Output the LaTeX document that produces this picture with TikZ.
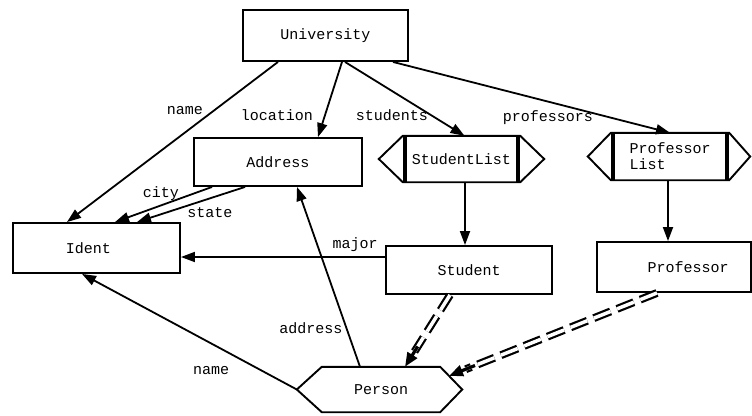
\documentclass[tikz,border=0pt]{standalone}
\usepackage{fontspec}
\setmainfont{Liberation Mono}
\usetikzlibrary{arrows.meta,calc}
\begin{document}
\begin{tikzpicture}[x=1pt,y=-1pt,
  font=\fontsize{15}{17}\selectfont,
  box/.style={draw,line width=1.9pt,inner sep=0pt},
  outline/.style={line width=1.9pt},
  bar/.style={line width=3.5pt},
  arr/.style={line width=1.8pt,-{Triangle[length=14pt,width=10pt]}},
  lbl/.style={inner sep=0pt},
  dbl/.style={line width=2.2pt,double=white,double distance=3.5pt,dash pattern=on 18pt off 7pt}]
\useasboundingbox[fill=white] (0,0) rectangle (752,415);

% rectangular nodes
\node[box,minimum width=165pt,minimum height=51pt] (uni) at (325.5,35.5) {University};
\node[box,minimum width=168pt,minimum height=48pt] (addr) at (278,162) {Address};
\node[box,minimum width=167pt,minimum height=50pt,label={[xshift=-8pt]center:Ident}] (ident) at (96.5,248) {};
\node[box,minimum width=166pt,minimum height=48pt] (stu) at (469,270) {Student};
\node[box,minimum width=154pt,minimum height=50pt,label={[xshift=14pt]center:Professor}] (prof) at (674,267) {};

% StudentList
\node[inner sep=0pt,minimum width=113pt,minimum height=46pt] (sl) at (461.5,159) {StudentList};
\draw[outline] ([xshift=-2pt]sl.north west) -- ([xshift=2pt]sl.north east) -- ([xshift=26pt]sl.east)
  -- ([xshift=2pt]sl.south east) -- ([xshift=-2pt]sl.south west) -- ([xshift=-26pt]sl.west) -- cycle;
\draw[bar] (sl.north west) -- (sl.south west) (sl.north east) -- (sl.south east);

% ProfessorList
\node[inner sep=0pt,minimum width=114pt,minimum height=47pt,align=left,font=\fontsize{15}{16}\selectfont] (pl) at (670,156.5) {Professor\\List};
\draw[outline] ([xshift=-2pt]pl.north west) -- ([xshift=2pt]pl.north east) -- ([xshift=23pt]pl.east)
  -- ([xshift=2pt]pl.south east) -- ([xshift=-2pt]pl.south west) -- ([xshift=-25pt]pl.west) -- cycle;
\draw[bar] (pl.north west) -- (pl.south west) (pl.north east) -- (pl.south east);

% Person
\node[inner sep=0pt,minimum width=118pt,minimum height=45pt] (per) at (381,389.5) {Person};
\draw[outline] (per.north west) -- (per.north east) -- ([xshift=22pt]per.east) coordinate (perR)
  -- (per.south east) -- (per.south west) -- ([xshift=-25pt]per.west) coordinate (perL) -- cycle;

% arrows from University
\draw[arr] ([xshift=-47.5pt]uni.south) -- ([xshift=-29.5pt]ident.north);
\draw[arr] ([xshift=16.5pt]uni.south) -- ([xshift=40pt]addr.north);
\draw[arr] ([xshift=19.5pt]uni.south) -- ([xshift=3pt]sl.north);
\draw[arr] ([xshift=67.5pt]uni.south) -- (pl.north);

% list to element
\coordinate (a1) at ([xshift=3.5pt]sl.south);
\draw[arr] (a1) -- (a1 |- stu.north);
\coordinate (a2) at ([xshift=-2pt]pl.south);
\draw[arr] (a2) -- (a2 |- prof.north);

% major
\coordinate (mj) at ([yshift=13pt]stu.west);
\draw[arr] (mj) -- (mj -| ident.east);

% city, state
\draw[arr] ([xshift=-66pt]addr.south) -- ([xshift=18.5pt]ident.north);
\draw[arr] ([xshift=-33pt]addr.south) -- ([xshift=40.5pt]ident.north);

% Person name, address
\draw[arr] (perL) -- ([xshift=-14.5pt]ident.south);
\draw[arr] ([xshift=-21pt]per.north) -- ([xshift=19pt]addr.south);

% inheritance (double dashed)
\coordinate (s1) at ([xshift=-19pt]stu.south);
\coordinate (e1) at ([xshift=24pt]per.north);
\draw[dbl] (s1) -- ($(e1)!18pt!(s1)$);
\draw[arr,line width=3.2pt,-{Triangle[length=14pt,width=11pt]}] ($(e1)!24pt!(s1)$) -- (e1);

\coordinate (s2) at ([xshift=-17pt]prof.south);
\coordinate (e2) at ($(per.north east)!0.4!(perR)$);
\draw[dbl] (s2) -- ($(e2)!18pt!(s2)$);
\draw[arr,line width=3.2pt,-{Triangle[length=14pt,width=11pt]}] ($(e2)!28pt!(s2)$) -- (e2);

% labels
\node[lbl] (lname1) at (185,111) {name};
\node[lbl] (lloc) at (277,115) {location};
\node[lbl] (lstu) at (392,115) {students};
\node[lbl] (lprof) at (548,118) {professors};
\node[lbl] (lcity) at (161,194) {city};
\node[lbl] (lstate) at (210,213) {state};
\node[lbl] (lmajor) at (355,245) {major};
\node[lbl] (laddr) at (311,328) {address};
\node[lbl] (lname2) at (211,371) {name};
\end{tikzpicture}
\end{document}
